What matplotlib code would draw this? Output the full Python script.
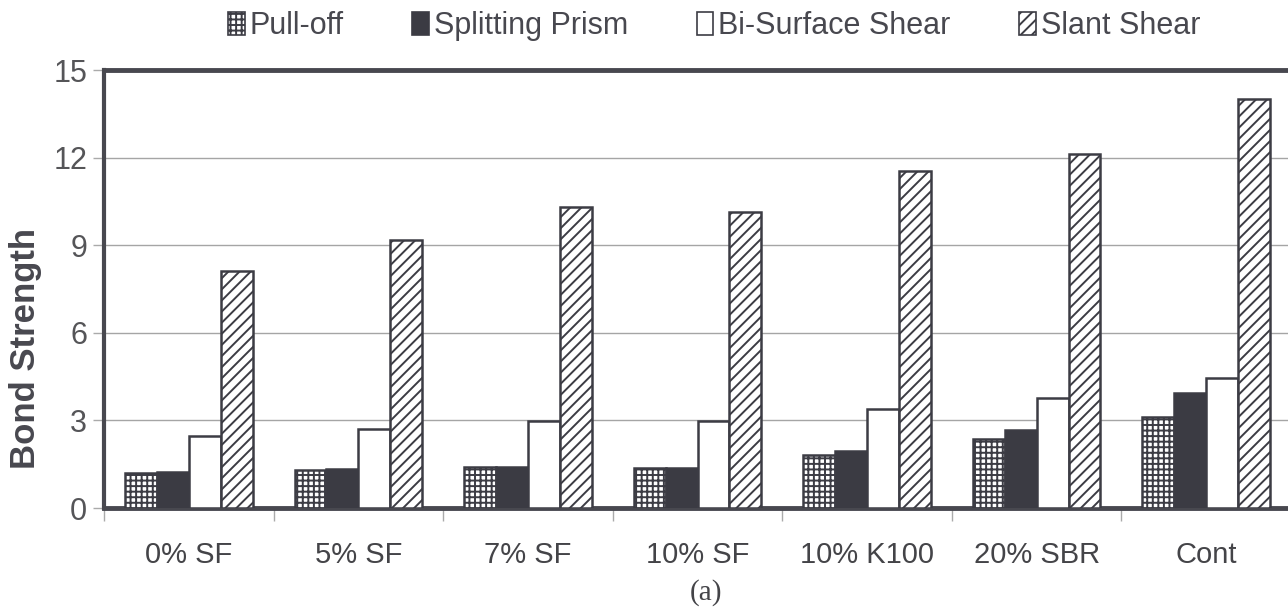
import matplotlib
matplotlib.use("Agg")
import matplotlib.pyplot as plt
import numpy as np
from matplotlib.patches import Patch

categories = ["0% SF", "5% SF", "7% SF", "10% SF", "10% K100", "20% SBR", "Cont"]
series_names = ["Pull-off", "Splitting Prism", "Bi-Surface Shear", "Slant Shear"]
pull_off = [1.20, 1.30, 1.39, 1.36, 1.82, 2.35, 3.10]
splitting_prism = [1.24, 1.34, 1.41, 1.36, 1.95, 2.67, 3.93]
bi_surface_shear = [2.45, 2.70, 2.99, 2.98, 3.38, 3.76, 4.45]
slant_shear = [8.13, 9.18, 10.32, 10.13, 11.54, 12.11, 14.01]
y_ticks = [0, 3, 6, 9, 12, 15]

plt.rcParams['font.family'] = ['Liberation Sans', 'DejaVu Sans']
plt.rcParams['hatch.linewidth'] = 1.4
plt.rcParams['hatch.color'] = '#3c3c44'

edge = '#3c3c44'
fig = plt.figure(figsize=(12.88, 6.08), dpi=100)
ax = fig.add_axes([104/1288, 100/608, (1291-104)/1288, (508-70)/608])

x = np.arange(len(categories))
w = 0.188
styles = [
    dict(facecolor='white', hatch='+++'),
    dict(facecolor='#3b3b43', hatch=None),
    dict(facecolor='white', hatch=None),
    dict(facecolor='white', hatch='///'),
]
data = [pull_off, splitting_prism, bi_surface_shear, slant_shear]
for i, (vals, st) in enumerate(zip(data, styles)):
    ax.bar(x + (i - 1.5) * w, vals, width=w, edgecolor=edge, linewidth=1.8,
           zorder=3, **st)

ax.set_xlim(-0.5, len(categories) - 0.5)
ax.set_ylim(0, 15)
ax.set_yticks(y_ticks)
ax.set_yticklabels([str(t) for t in y_ticks], fontsize=22, color='#555558')
ax.set_xticks(x)
ax.set_xticklabels(categories, fontsize=21, color='#444448')
ax.set_xticks(np.arange(len(categories) + 1) - 0.5, minor=True)
ax.tick_params(axis='x', which='major', length=0, pad=24)
ax.tick_params(axis='x', which='minor', length=9, color='#aaaaaa', width=1)
ax.tick_params(axis='y', length=8, color='#aaaaaa', width=1, pad=4)
ax.yaxis.grid(True, color='#a5a5a5', linewidth=1.0, zorder=0)
ax.set_axisbelow(True)

for s in ['left', 'top', 'bottom']:
    ax.spines[s].set_color('#48484f')
    ax.spines[s].set_linewidth(3.5)
ax.spines['right'].set_visible(False)
ax.spines['left'].set_linewidth(3)

ax.set_ylabel("Bond Strength", fontsize=25, fontweight='bold', color='#48484f')
ax.yaxis.set_label_coords(-0.052, 0.365)

handles = [Patch(edgecolor=edge, linewidth=1.2, **st) for st in styles]
leg = fig.legend(handles, series_names, loc='center', bbox_to_anchor=(714/1288, 1 - 26/608),
                 ncol=4, frameon=False, fontsize=22, handlelength=0.55, handleheight=0.75,
                 handletextpad=0.15, columnspacing=2.25, labelcolor='#48484f')

fig.text(706/1288, 1 - 593/608, "(a)", ha='center', va='center',
         fontsize=21, family=['Liberation Serif', 'DejaVu Serif'], color='#444448')

fig.savefig("out.png", dpi=100)
